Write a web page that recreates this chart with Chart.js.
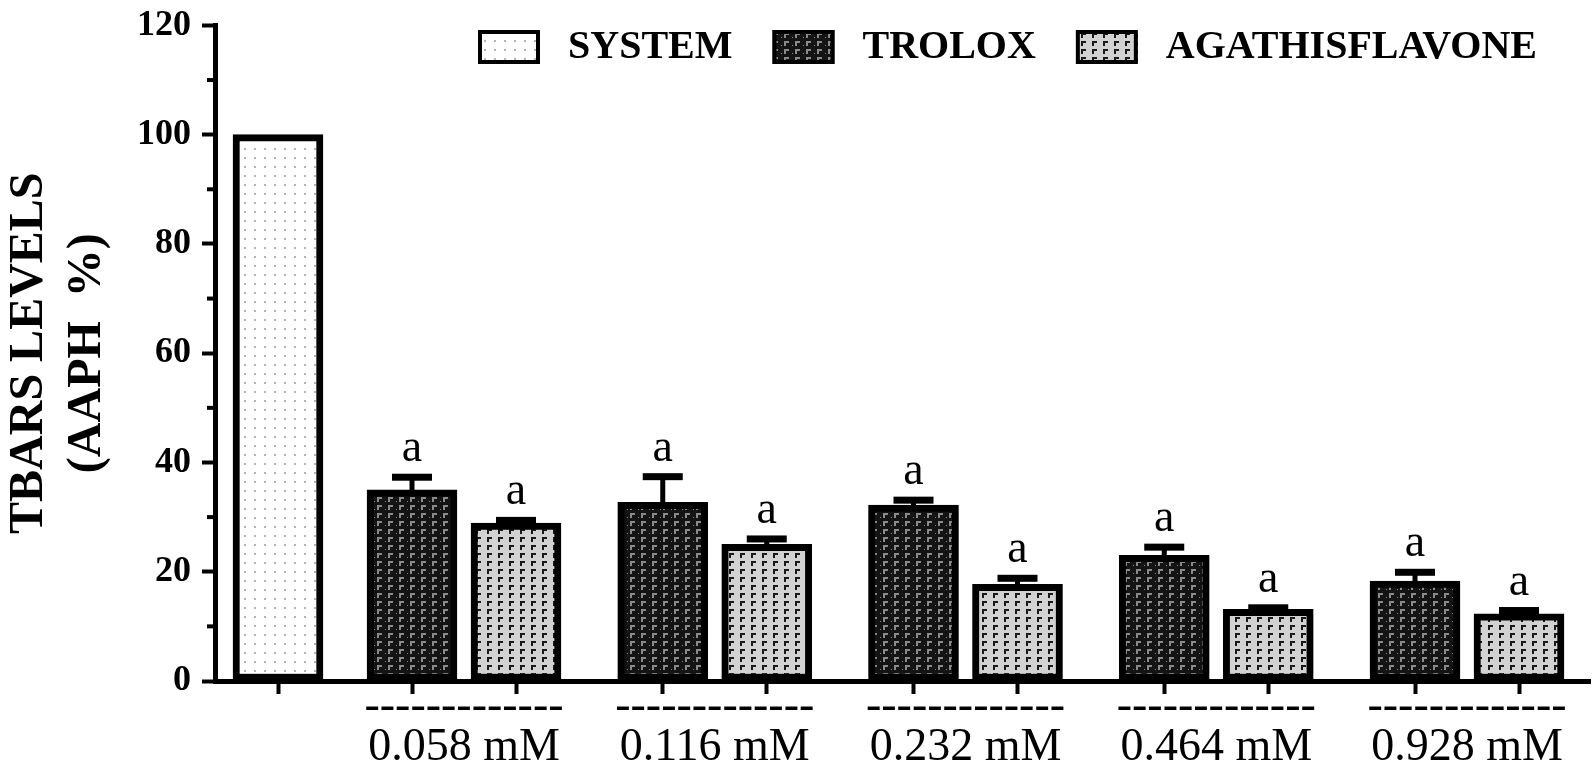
<!DOCTYPE html>
<html>
<head>
<meta charset="utf-8">
<title>TBARS levels</title>
<script src="https://cdn.jsdelivr.net/npm/chart.js@4.4.0/dist/chart.umd.min.js"></script>
<style>
  html, body { margin: 0; padding: 0; background: #fff; }
  #chart { display: block; }
</style>
</head>
<body>
<canvas id="chart" width="1595" height="770"></canvas>
<script>
// data
const concentrations = ['0.058 mM', '0.116 mM', '0.232 mM', '0.464 mM', '0.928 mM'];
const seriesNames = ['SYSTEM', 'TROLOX', 'AGATHISFLAVONE'];
const systemValue = [100];
const troloxValues = [35.0, 32.7, 32.2, 23.0, 18.3];
const troloxErrors = [2.3, 4.7, 0.9, 1.5, 1.6];
const agathisValues = [28.9, 25.0, 17.7, 13.1, 12.3];
const agathisErrors = [0.5, 1.0, 1.1, 0.3, 0.6];
const troloxMarks = ['a', 'a', 'a', 'a', 'a'];
const agathisMarks = ['a', 'a', 'a', 'a', 'a'];
const yTicks = [0, 20, 40, 60, 80, 100, 120];
const groupDivider = '-------------';

const serif = "'Liberation Serif', 'Times New Roman', serif";
const canvas = document.getElementById('chart');
const mainCtx = canvas.getContext('2d');

// fill patterns like the original hatching
function makePattern(w, h, bg, mark, draw) {
    const c = document.createElement('canvas');
    c.width = w;
    c.height = h;
    const g = c.getContext('2d');
    g.fillStyle = bg;
    g.fillRect(0, 0, w, h);
    g.fillStyle = mark;
    draw(g);
    return mainCtx.createPattern(c, 'repeat');
}
const systemFill = makePattern(10, 9, '#ffffff', '#b4b4b4', g => g.fillRect(4, 4, 2, 2));
const troloxFill = makePattern(11, 8, '#141414', '#8a8a8a', g => {
    g.fillRect(3, 1, 2, 5);
    g.fillRect(3, 1, 5, 2);
    g.fillRect(0, 5, 1, 1);
});
const agathisFill = makePattern(11, 8, '#d2d2d2', '#1a1a1a', g => {
    g.fillRect(3, 1, 2, 5);
    g.fillRect(3, 1, 5, 2);
});
const fills = [systemFill, troloxFill, agathisFill];

// x positions on a linear axis (1 unit ~ 100px)
const systemX = 0.63;
const firstPair = 1.97;
const pairStep = 2.5075;
const pairGap = 1.04;
const troloxX = concentrations.map((c, i) => firstPair + pairStep * i);
const agathisX = troloxX.map(x => x + pairGap);
const groupX = troloxX.map(x => x + pairGap / 2);
const barX = [systemX].concat(troloxX, agathisX).sort((a, b) => a - b);

function barSet(label, xs, ys, fill) {
    return {
        label: label,
        data: ys.map((v, i) => ({ x: xs[i], y: v })),
        backgroundColor: fill,
        borderColor: '#000',
        borderWidth: 7,
        borderSkipped: false,
        barThickness: 90,
        grouped: false
    };
}

// minor ticks on y axis
const minorTicks = {
    id: 'minorTicks',
    afterDraw(chart) {
        const ctx = chart.ctx;
        const y = chart.scales.y;
        const left = chart.chartArea.left;
        ctx.save();
        ctx.strokeStyle = '#000';
        ctx.lineWidth = 4;
        for (let i = 0; i < yTicks.length - 1; i++) {
            const py = y.getPixelForValue((yTicks[i] + yTicks[i + 1]) / 2);
            ctx.beginPath();
            ctx.moveTo(left - 8, py);
            ctx.lineTo(left, py);
            ctx.stroke();
        }
        ctx.restore();
    }
};

// error bars + significance letters
const errorBars = {
    id: 'errorBars',
    afterDatasetsDraw(chart) {
        const ctx = chart.ctx;
        const y = chart.scales.y;
        const sets = [
            [1, troloxValues, troloxErrors, troloxMarks],
            [2, agathisValues, agathisErrors, agathisMarks]
        ];
        ctx.save();
        ctx.fillStyle = '#000';
        ctx.font = '46px ' + serif;
        ctx.textAlign = 'center';
        ctx.textBaseline = 'alphabetic';
        sets.forEach(([di, vals, errs, marks]) => {
            chart.getDatasetMeta(di).data.forEach((bar, j) => {
                const top = y.getPixelForValue(vals[j] + errs[j]);
                ctx.fillRect(bar.x - 2.5, top, 5, bar.y - top + 3);
                ctx.fillRect(bar.x - 20, top - 3.5, 40, 7);
                ctx.fillText(marks[j], bar.x, top - 16);
            });
        });
        ctx.restore();
    }
};

// legend drawn at the top right like the original
const topLegend = {
    id: 'topLegend',
    afterDraw(chart) {
        const ctx = chart.ctx;
        ctx.save();
        ctx.font = 'bold 40px ' + serif;
        ctx.textBaseline = 'middle';
        ctx.textAlign = 'left';
        let x = 478;
        const boxY = 30, boxW = 62, boxH = 34;
        seriesNames.forEach((name, i) => {
            ctx.fillStyle = fills[i];
            ctx.fillRect(x, boxY, boxW, boxH);
            ctx.strokeStyle = '#000';
            ctx.lineWidth = 4;
            ctx.strokeRect(x + 2, boxY + 2, boxW - 4, boxH - 4);
            ctx.fillStyle = '#000';
            const tx = x + boxW + 28;
            ctx.fillText(name, tx, boxY + boxH / 2 + 1);
            x = tx + ctx.measureText(name).width + 40;
        });
        ctx.restore();
    }
};

new Chart(canvas, {
    type: 'bar',
    data: {
        datasets: [
            barSet(seriesNames[0], [systemX], systemValue, systemFill),
            barSet(seriesNames[1], troloxX, troloxValues, troloxFill),
            barSet(seriesNames[2], agathisX, agathisValues, agathisFill)
        ]
    },
    options: {
        responsive: false,
        animation: false,
        devicePixelRatio: 1,
        layout: { padding: { top: 15, right: 5, left: 0, bottom: 0 } },
        plugins: {
            legend: { display: false },
            tooltip: { enabled: false }
        },
        scales: {
            x: {
                type: 'linear',
                position: 'bottom',
                weight: 0,
                min: 0,
                max: 13.75,
                offset: false,
                afterBuildTicks: scale => { scale.ticks = barX.map(v => ({ value: v })); },
                afterFit: scale => { scale.height = 13; },
                ticks: { display: false, autoSkip: false },
                grid: {
                    offset: false,
                    drawOnChartArea: false,
                    drawTicks: true,
                    tickLength: 13,
                    tickWidth: 4,
                    tickColor: '#000'
                },
                border: { display: true, color: '#000', width: 5 }
            },
            x2: {
                type: 'linear',
                position: 'bottom',
                weight: 1,
                min: 0,
                max: 13.75,
                offset: false,
                afterBuildTicks: scale => { scale.ticks = groupX.map(v => ({ value: v })); },
                afterFit: scale => { scale.height = 76; },
                ticks: {
                    autoSkip: false,
                    maxRotation: 0,
                    minRotation: 0,
                    padding: -8,
                    color: '#000',
                    font: { family: serif, size: 46, lineHeight: 0.9 },
                    callback: (value, index) => [groupDivider, concentrations[index]]
                },
                grid: { display: false, drawTicks: false, offset: false },
                border: { display: false }
            },
            y: {
                type: 'linear',
                min: 0,
                max: 120,
                afterBuildTicks: scale => { scale.ticks = yTicks.map(v => ({ value: v })); },
                afterFit: scale => { scale.width = 215; },
                ticks: {
                    padding: 11,
                    color: '#000',
                    font: { family: serif, size: 36, weight: 'bold', lineHeight: 0.8 }
                },
                grid: {
                    drawOnChartArea: false,
                    drawTicks: true,
                    tickLength: 13,
                    tickWidth: 4,
                    tickColor: '#000'
                },
                border: { display: true, color: '#000', width: 5 },
                title: {
                    display: true,
                    text: ['TBARS LEVELS', '(AAPH  %)'],
                    color: '#000',
                    padding: { top: 1, bottom: 0 },
                    font: { family: serif, size: 48, weight: 'bold', lineHeight: 1.2 }
                }
            }
        }
    },
    plugins: [minorTicks, errorBars, topLegend]
});
</script>
</body>
</html>
